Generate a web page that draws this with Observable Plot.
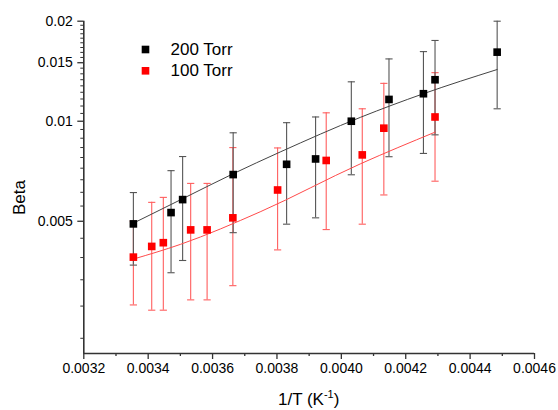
<!DOCTYPE html>
<html><head><meta charset="utf-8">
<script src="https://cdn.jsdelivr.net/npm/d3@7"></script>
<script src="https://cdn.jsdelivr.net/npm/@observablehq/plot@0.6"></script>
<style>html,body{margin:0;padding:0;background:#fff}</style>
</head><body><div id="chart"></div>
<script>
// 200 Torr
const x200  = [0.003354, 0.003471, 0.003507, 0.003664, 0.003830, 0.003920, 0.004031, 0.004148, 0.004255, 0.004291, 0.004484];
const y200  = [0.00491, 0.00531, 0.00581, 0.00691, 0.00742, 0.00770, 0.01000, 0.01163, 0.01210, 0.01333, 0.01614];
const hi200 = [0.00610, 0.00710, 0.00783, 0.00923, 0.00990, 0.01030, 0.01314, 0.01540, 0.01620, 0.01750, 0.02000];
const lo200 = [0.00369, 0.00350, 0.00381, 0.00462, 0.00490, 0.00512, 0.00690, 0.00782, 0.00800, 0.00910, 0.01090];
// 100 Torr
const x100  = [0.003354, 0.003411, 0.003447, 0.003532, 0.003583, 0.003663, 0.003802, 0.003953, 0.004065, 0.004132, 0.004291];
const y100  = [0.00390, 0.00420, 0.00431, 0.00471, 0.00471, 0.00512, 0.00621, 0.00762, 0.00792, 0.00953, 0.01030];
const hi100 = [0.00500, 0.00570, 0.00590, 0.00650, 0.00650, 0.00833, 0.00831, 0.01060, 0.01090, 0.01300, 0.01400];
const lo100 = [0.00280, 0.00270, 0.00270, 0.00290, 0.00290, 0.00320, 0.00410, 0.00472, 0.00490, 0.00600, 0.00660];
// fit curves
const fitX200 = [0.003355, 0.003500, 0.003664, 0.003810, 0.004060, 0.004255, 0.004484];
const fitY200 = [0.00494, 0.00580, 0.00695, 0.00808, 0.01028, 0.01210, 0.01431];
const fitX100 = [0.003355, 0.003500, 0.003750, 0.004060, 0.004291];
const fitY100 = [0.00385, 0.00426, 0.00535, 0.00745, 0.00927];

const seriesNames = ["200 Torr", "100 Torr"];
const xTicks = [0.0032, 0.0034, 0.0036, 0.0038, 0.0040, 0.0042, 0.0044, 0.0046];
const xTickLabels = ["0.0032", "0.0034", "0.0036", "0.0038", "0.0040", "0.0042", "0.0044", "0.0046"];
const xMinor = [0.0033, 0.0035, 0.0037, 0.0039, 0.0041, 0.0043, 0.0045];
const yTicks = [0.005, 0.01, 0.015, 0.02];
const yTickLabels = ["0.005", "0.01", "0.015", "0.02"];
const yMinor = d3.range(4, 36).filter(k => k % 9 !== 0).map(k => k * 0.005 / 9);

const rows = (xs, ys, los, his) => xs.map((x, i) => ({x, y: ys[i], lo: los[i], hi: his[i]}));
const d200 = rows(x200, y200, lo200, hi200);
const d100 = rows(x100, y100, lo100, hi100);
const f200 = fitX200.map((x, i) => ({x, y: fitY200[i]}));
const f100 = fitX100.map((x, i) => ({x, y: fitY100[i]}));

const cap = {draw(ctx, size) { const r = Math.sqrt(size / Math.PI); ctx.moveTo(-r, 0); ctx.lineTo(r, 0); }};

const BLK = "#000", RED = "#ff0000", BLKBAR = "#555", REDBAR = "#ff5e5e", BLKLINE = "#444", REDLINE = "#ff4a4a";
const axisCol = "#333";

const chart = Plot.plot({
  width: 558, height: 410,
  marginLeft: 83.3, marginRight: 24, marginTop: 20.7, marginBottom: 57,
  x: {domain: [0.0032, 0.0046]},
  y: {type: "log", domain: [0.002, 0.02]},
  style: {fontFamily: "'Liberation Sans', Arial, sans-serif", fontSize: "14px", color: "#000", background: "#fff"},
  marks: [
    Plot.axisX(xTicks, {tickSize: 6, tickPadding: 4, tickFormat: d => xTickLabels[xTicks.indexOf(d)], label: null, stroke: axisCol, strokeWidth: 1.3, fill: "#000", fontSize: 14}),
    Plot.axisX(xMinor, {tickSize: 3, text: null, label: null, stroke: axisCol, strokeWidth: 1.3}),
    Plot.axisY(yTicks, {tickSize: 6, tickPadding: 5, tickFormat: d => yTickLabels[yTicks.indexOf(d)], label: null, stroke: axisCol, strokeWidth: 1.3, fill: "#000", fontSize: 14}),
    Plot.axisY(yMinor, {tickSize: 3, text: null, label: null, stroke: axisCol, strokeWidth: 1}),
    Plot.ruleY([0.002], {stroke: axisCol, strokeWidth: 1.6}),
    Plot.ruleX([0.0032], {stroke: axisCol, strokeWidth: 1.6}),
    // error bars
    Plot.ruleX(d100, {x: "x", y1: "lo", y2: "hi", stroke: REDBAR, strokeWidth: 1.1}),
    Plot.dot(d100, {x: "x", y: "lo", symbol: cap, r: 3.6, stroke: REDBAR, fill: "none", strokeWidth: 1.1}),
    Plot.dot(d100, {x: "x", y: "hi", symbol: cap, r: 3.6, stroke: REDBAR, fill: "none", strokeWidth: 1.1}),
    Plot.ruleX(d200, {x: "x", y1: "lo", y2: "hi", stroke: BLKBAR, strokeWidth: 1.1}),
    Plot.dot(d200, {x: "x", y: "lo", symbol: cap, r: 3.6, stroke: BLKBAR, fill: "none", strokeWidth: 1.1}),
    Plot.dot(d200, {x: "x", y: "hi", symbol: cap, r: 3.6, stroke: BLKBAR, fill: "none", strokeWidth: 1.1}),
    // fits
    Plot.line(f100, {x: "x", y: "y", stroke: REDLINE, strokeWidth: 1, curve: "monotone-x"}),
    Plot.line(f200, {x: "x", y: "y", stroke: BLKLINE, strokeWidth: 1, curve: "monotone-x"}),
    // points
    Plot.dot(d100, {x: "x", y: "y", symbol: "square", r: 4.3, fill: RED, stroke: "none"}),
    Plot.dot(d200, {x: "x", y: "y", symbol: "square", r: 4.3, fill: BLK, stroke: "none"}),
    // legend
    Plot.dot([seriesNames[0]], {frameAnchor: "top-left", dx: 61.7, dy: 28.3, symbol: "square", r: 4.3, fill: BLK}),
    Plot.dot([seriesNames[1]], {frameAnchor: "top-left", dx: 61.7, dy: 49.6, symbol: "square", r: 4.3, fill: RED}),
    Plot.text([seriesNames[0]], {frameAnchor: "top-left", dx: 86.7, dy: 28.3, text: d => d, textAnchor: "start", lineAnchor: "middle", fontSize: 17, fill: "#000"}),
    Plot.text([seriesNames[1]], {frameAnchor: "top-left", dx: 86.7, dy: 49.6, text: d => d, textAnchor: "start", lineAnchor: "middle", fontSize: 17, fill: "#000"})
  ]
});
document.getElementById("chart").appendChild(chart);

const svg = d3.select(chart);
const xt = svg.append("text")
  .attr("x", 308.7).attr("y", 405)
  .attr("text-anchor", "middle")
  .attr("font-size", 17).attr("fill", "#000")
  .attr("font-family", "'Liberation Sans', Arial, sans-serif");
xt.append("tspan").text("1/T (K");
xt.append("tspan").text("-1").attr("font-size", 11).attr("dy", -7);
xt.append("tspan").text(")").attr("dy", 7);

svg.append("text")
  .attr("transform", "translate(24.5,197.5) rotate(-90)")
  .attr("text-anchor", "middle")
  .attr("font-size", 17).attr("fill", "#000")
  .attr("font-family", "'Liberation Sans', Arial, sans-serif")
  .text("Beta");
</script>
</body></html>
